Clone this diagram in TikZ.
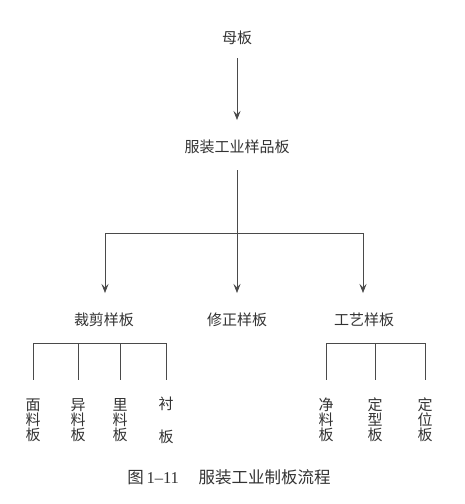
\documentclass[tikz,border=0pt]{standalone}
\usepackage{fontspec}
\setmainfont{Liberation Serif}
\newfontfamily\cjk{Noto Sans CJK SC}
\usetikzlibrary{arrows.meta}
\definecolor{ink}{HTML}{333333}
\definecolor{wire}{HTML}{4A4A4A}
\begin{document}
\begin{tikzpicture}[x=1pt,y=-1pt,
  lbl/.style={inner sep=0pt,text=ink,font={\cjk\fontsize{15}{15}\selectfont}},
  vlbl/.style={lbl,align=center},
  wireline/.style={draw=wire,line width=0.7pt},
  arr/.style={wireline,-{Stealth[length=9pt,width=7pt,inset=3.5pt]}}]
\useasboundingbox[fill=white] (0,0) rectangle (465,504);
% main nodes
\node[lbl] (mu) at (237,38) {母板};
\node[lbl] (fz) at (237,147) {服装工业样品板};
\node[lbl] (cj) at (104,320) {裁剪样板};
\node[lbl] (xz) at (237,320) {修正样板};
\node[lbl] (gy) at (364,320) {工艺样板};
% vertical labels
\node[vlbl] (v1) at (33,420) {面\\料\\板};
\node[vlbl] (v2) at (78,420) {异\\料\\板};
\node[vlbl] (v3) at (120,420) {里\\料\\板};
\node[vlbl] (v4) at (166,420) {衬\\\strut\\板};
\node[vlbl] (w1) at (326,420) {净\\料\\板};
\node[vlbl] (w2) at (375,420) {定\\型\\板};
\node[vlbl] (w3) at (425,420) {定\\位\\板};
% caption
\node[inner sep=0pt,text=ink,font={\fontsize{16.5}{18}\selectfont}] (cap) at (229,477) {{\cjk 图}\,1–11\hspace{1.2em}{\cjk 服装工业制板流程}};
% connectors
\coordinate (j) at (237,233);
\coordinate (bar) at (0,343);
\draw[arr] ([yshift=-20pt]mu.center) -- ([yshift=27pt]fz.center);
\draw[wireline] ([yshift=-23pt]fz.center) -- (j);
\draw[wireline] ([xshift=1pt]cj |- j) -- ([xshift=-1pt]gy |- j);
\draw[arr] ([xshift=1pt]cj |- j) -- ([xshift=1pt,yshift=27pt]cj.center);
\draw[arr] (j) -- ([yshift=27pt]xz.center);
\draw[arr] ([xshift=-1pt]gy |- j) -- ([xshift=-1pt,yshift=27pt]gy.center);
% left bar
\draw[wireline] (v1 |- bar) -- (v4 |- bar);
\foreach \n in {v1,v2,v3,v4}
  \draw[wireline] (\n |- bar) -- ([yshift=40pt]\n.center);
% right bar
\draw[wireline] (w1 |- bar) -- (w3 |- bar);
\foreach \n in {w1,w2,w3}
  \draw[wireline] (\n |- bar) -- ([yshift=40pt]\n.center);
\end{tikzpicture}
\end{document}
